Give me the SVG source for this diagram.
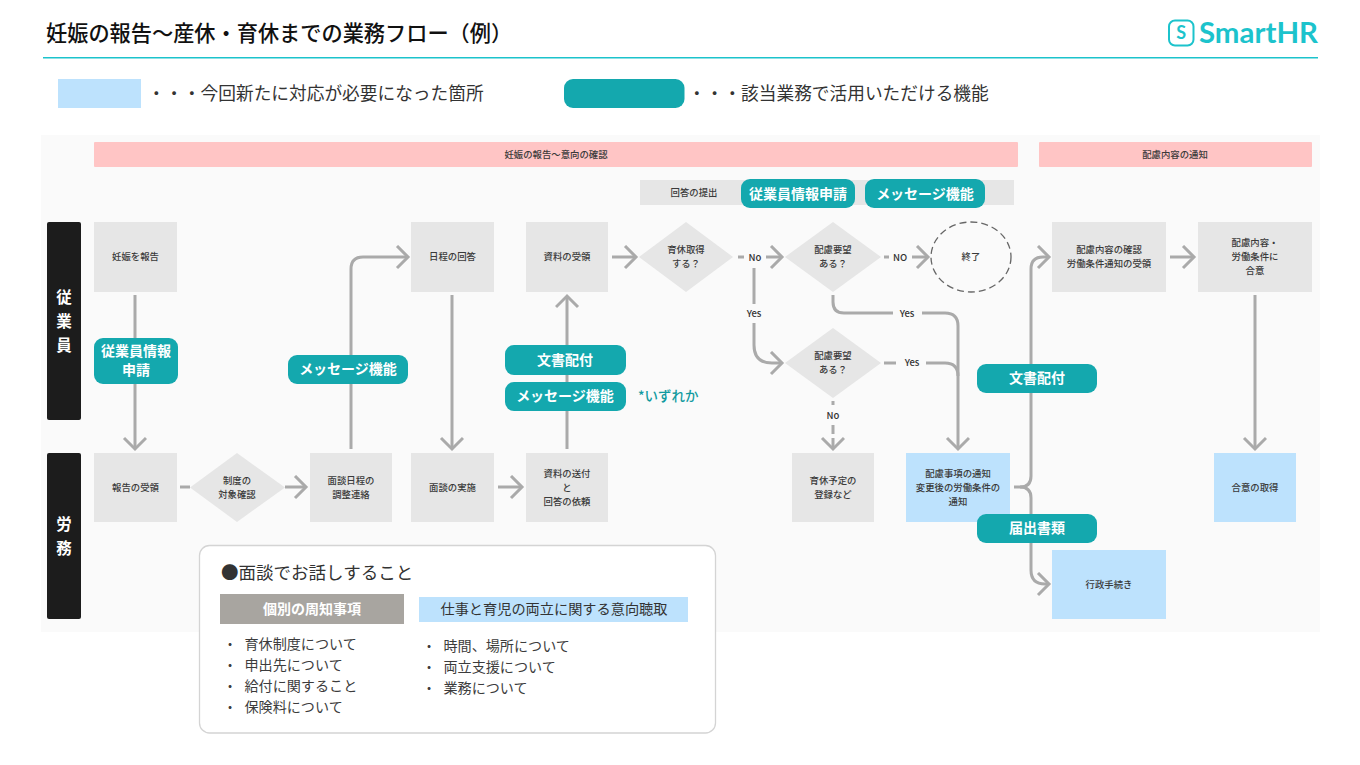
<svg xmlns="http://www.w3.org/2000/svg" width="1360" height="765" viewBox="0 0 1360 765">
<style>
text{font-family:"Noto Sans CJK JP","Noto Sans",sans-serif;fill:#333;text-anchor:middle}
.n{font-size:9.4px;font-weight:500;fill:#3a3a3a}
.g{fill:#e6e6e6}
.b{fill:#bde2fd}
.p{fill:#ffc5c5}
.k{fill:#1c1c1c}
.t{fill:#14a8ae}
.c{font-size:14px;font-weight:700;fill:#fff}
.s{font-size:15.5px;font-weight:700;fill:#fff}
.l{font-size:17.7px;text-anchor:start;fill:#333}
.i{font-size:14.1px;text-anchor:start;fill:#3c3c3c}
.a{fill:none;stroke:#aaa;stroke-width:3;stroke-linejoin:round}
.e{marker-end:url(#h)}
.y{font-size:9.5px;font-weight:500;fill:#333}
</style>
<defs>
<marker id="h" markerUnits="userSpaceOnUse" markerWidth="28" markerHeight="28" refX="21" refY="12" orient="auto">
<path d="M10 1 L21 12 L10 23" fill="none" stroke="#aaa" stroke-width="3"/>
</marker>
</defs>
<rect width="1360" height="765" fill="#fff"/>
<g id="header">
<text x="46" y="41" style="font-size:21.2px;font-weight:500;text-anchor:start;fill:#111">妊娠の報告〜産休・育休までの業務フロー（例）</text>
<rect x="43" y="57" width="1275" height="1.5" fill="#1cc3cc"/>
<g id="logo">
<rect x="1169" y="20.500" width="24.500" height="25" rx="6" fill="none" stroke="#1cc3cc" stroke-width="2"/>
<text x="1181.300" y="39" style="font-size:18px;font-weight:700;fill:#1cc3cc;font-family:Lato,sans-serif">S</text>
<text x="1199" y="43" textLength="119" lengthAdjust="spacingAndGlyphs" style="font-size:29px;font-weight:700;fill:#1cc3cc;text-anchor:start;font-family:Lato,sans-serif">SmartHR</text>
</g>
</g>
<g id="legend">
<rect class="b" x="58" y="79" width="83" height="29"/>
<text class="l" x="147.500" y="100">・・・今回新たに対応が必要になった箇所</text>
<rect class="t" x="564" y="79" width="120.500" height="29" rx="9"/>
<text class="l" x="688" y="100">・・・該当業務で活用いただける機能</text>
</g>
<rect x="41" y="135" width="1279" height="497" fill="#fafafa"/>
<g id="phases">
<rect class="p" x="94" y="142" width="924" height="25" rx="1"/>
<text class="n" x="556" y="158">妊娠の報告〜意向の確認</text>
<rect class="p" x="1039" y="142" width="273" height="25" rx="1"/>
<text class="n" x="1175" y="158">配慮内容の通知</text>
<rect class="g" x="640" y="180" width="374" height="25"/>
<text class="n" x="694" y="196">回答の提出</text>
</g>
<g id="lanes">
<rect class="k" x="47" y="222" width="34" height="198" rx="2"/>
<text class="s" x="64" y="303">従</text><text class="s" x="64" y="327">業</text><text class="s" x="64" y="351">員</text>
<rect class="k" x="47" y="453" width="34" height="166" rx="2"/>
<text class="s" x="64" y="530">労</text><text class="s" x="64" y="554">務</text>
</g>
<g id="connectors">
<path class="a e" d="M135 295V449"/>
<path class="a e" d="M351 449V269Q351 257 363 257H408"/>
<path class="a e" d="M452 295V449"/>
<path class="a e" d="M567 449V296"/>
<path class="a e" d="M612 257H636"/>
<path class="a" d="M180 487H190"/>
<path class="a e" d="M285 487H306"/>
<path class="a e" d="M498 487H522"/>
<path class="a" d="M738 257H744"/>
<path class="a e" d="M766 257H782"/>
<path class="a" d="M884 257H889"/>
<path class="a e" d="M912 257H928"/>
<path class="a" d="M754 268V304"/>
<path class="a e" d="M754 323V345Q754 363 772 363H782"/>
<path class="a" d="M833 295V302Q833 313 844 313H893"/>
<path class="a e" d="M922 313H945Q958 313 958 326V449"/>
<path class="a" d="M884 363H896"/>
<path class="a" d="M926 363H945Q958 363 958 376"/>
<path class="a" d="M833 401V405"/>
<path class="a e" d="M833 425V449" stroke-dasharray="9 4"/>
<path class="a e" d="M1014 487H1020Q1031 487 1031 476V269Q1031 257 1043 257H1049"/>
<path class="a e" d="M1020 487Q1031 487 1031 498V570Q1031 584 1045 584H1049"/>
<path class="a e" d="M1170 257H1194"/>
<path class="a e" d="M1255 295V449"/>
<text class="y" x="755" y="261">No</text>
<text class="y" x="900" y="261">NO</text>
<text class="y" x="754" y="317">Yes</text>
<text class="y" x="907" y="317">Yes</text>
<text class="y" x="912" y="366">Yes</text>
<text class="y" x="833" y="419">No</text>
</g>
<g id="n1"><rect class="g" x="94" y="222" width="83" height="70"/><text class="n" x="135.500" y="260">妊娠を報告</text></g>
<g id="n2"><rect class="g" x="411" y="222" width="83" height="70"/><text class="n" x="452.500" y="260">日程の回答</text></g>
<g id="n3"><rect class="g" x="526" y="222" width="82" height="70"/><text class="n" x="567" y="260">資料の受領</text></g>
<g id="d1"><path class="g" d="M686 222L733 257L686 292L639 257Z"/><text class="n" x="686" y="253">育休取得</text><text class="n" x="686" y="267">する？</text></g>
<g id="d2"><path class="g" d="M833 222L881 257L833 292L785 257Z"/><text class="n" x="833" y="253">配慮要望</text><text class="n" x="833" y="267">ある？</text></g>
<g id="end"><ellipse cx="971" cy="257" rx="40" ry="35" fill="none" stroke="#666" stroke-width="1.300" stroke-dasharray="7 4"/><text class="n" x="971" y="260">終了</text></g>
<g id="n4"><rect class="g" x="1052" y="222" width="114" height="70"/><text class="n" x="1109" y="253">配慮内容の確認</text><text class="n" x="1109" y="267">労働条件通知の受領</text></g>
<g id="n5"><rect class="g" x="1198" y="222" width="114" height="70"/><text class="n" x="1255" y="246">配慮内容・</text><text class="n" x="1255" y="260">労働条件に</text><text class="n" x="1255" y="274">合意</text></g>
<g id="d3"><path class="g" d="M833 328L881 363L833 398L785 363Z"/><text class="n" x="833" y="359">配慮要望</text><text class="n" x="833" y="373">ある？</text></g>
<g id="n6"><rect class="g" x="94" y="453" width="83" height="69"/><text class="n" x="135.500" y="491">報告の受領</text></g>
<g id="d4"><path class="g" d="M237 453L285 487.500L237 522L190 487.500Z"/><text class="n" x="237" y="484">制度の</text><text class="n" x="237" y="498">対象確認</text></g>
<g id="n7"><rect class="g" x="310" y="453" width="82" height="69"/><text class="n" x="351" y="484">面談日程の</text><text class="n" x="351" y="498">調整連絡</text></g>
<g id="n8"><rect class="g" x="411" y="453" width="83" height="69"/><text class="n" x="452.500" y="491">面談の実施</text></g>
<g id="n9"><rect class="g" x="526" y="453" width="82" height="69"/><text class="n" x="567" y="477">資料の送付</text><text class="n" x="567" y="491">と</text><text class="n" x="567" y="505">回答の依頼</text></g>
<g id="n10"><rect class="g" x="792" y="453" width="82" height="69"/><text class="n" x="833" y="484">育休予定の</text><text class="n" x="833" y="498">登録など</text></g>
<g id="n11"><rect class="b" x="906" y="453" width="104" height="69"/><text class="n" x="958" y="477">配慮事項の通知</text><text class="n" x="958" y="491">変更後の労働条件の</text><text class="n" x="958" y="505">通知</text></g>
<g id="n12"><rect class="b" x="1214" y="453" width="82" height="69"/><text class="n" x="1255" y="491">合意の取得</text></g>
<g id="n13"><rect class="b" x="1052" y="550" width="114" height="69"/><text class="n" x="1109" y="588">行政手続き</text></g>
<g id="chips">
<rect class="t" x="741" y="179" width="114" height="29" rx="9"/><text class="c" x="798" y="199">従業員情報申請</text>
<rect class="t" x="865" y="179" width="120" height="29" rx="9"/><text class="c" x="925" y="199">メッセージ機能</text>
<rect class="t" x="94" y="338" width="84" height="46" rx="9"/><text class="c" x="136" y="356">従業員情報</text><text class="c" x="136" y="375">申請</text>
<rect class="t" x="288" y="355" width="120" height="29" rx="9"/><text class="c" x="348" y="374">メッセージ機能</text>
<rect class="t" x="505" y="345" width="121" height="30" rx="9"/><text class="c" x="565" y="365">文書配付</text>
<rect class="t" x="505" y="382" width="121" height="29" rx="9"/><text class="c" x="565" y="401">メッセージ機能</text>
<text x="638" y="401" style="font-size:13.500px;font-weight:500;fill:#129aa0;text-anchor:start">*いずれか</text>
<rect class="t" x="977" y="364" width="120" height="29" rx="9"/><text class="c" x="1037" y="383">文書配付</text>
<rect class="t" x="977" y="514" width="120" height="29" rx="9"/><text class="c" x="1037" y="533">届出書類</text>
</g>
<g id="card">
<rect x="199.500" y="545.500" width="516" height="187.500" rx="10" fill="#fff" stroke="#d4d4d4" stroke-width="1.300"/>
<text x="221" y="579" style="font-size:17.500px;text-anchor:start;fill:#333">●面談でお話しすること</text>
<rect x="220" y="594" width="184" height="30" fill="#a8a5a0"/>
<text x="312" y="614" style="font-size:14px;font-weight:700;fill:#fff">個別の周知事項</text>
<rect class="b" x="419" y="597" width="269" height="25"/>
<text x="554" y="614" style="font-size:14.200px;fill:#333">仕事と育児の両立に関する意向聴取</text>
<text class="i" x="223" y="649">・</text><text class="i" x="244.500" y="649">育休制度について</text>
<text class="i" x="223" y="670">・</text><text class="i" x="244.500" y="670">申出先について</text>
<text class="i" x="223" y="691">・</text><text class="i" x="244.500" y="691">給付に関すること</text>
<text class="i" x="223" y="712">・</text><text class="i" x="244.500" y="712">保険料について</text>
<text class="i" x="422" y="651">・</text><text class="i" x="443.500" y="651">時間、場所について</text>
<text class="i" x="422" y="672">・</text><text class="i" x="443.500" y="672">両立支援について</text>
<text class="i" x="422" y="693">・</text><text class="i" x="443.500" y="693">業務について</text>
</g>
</svg>
